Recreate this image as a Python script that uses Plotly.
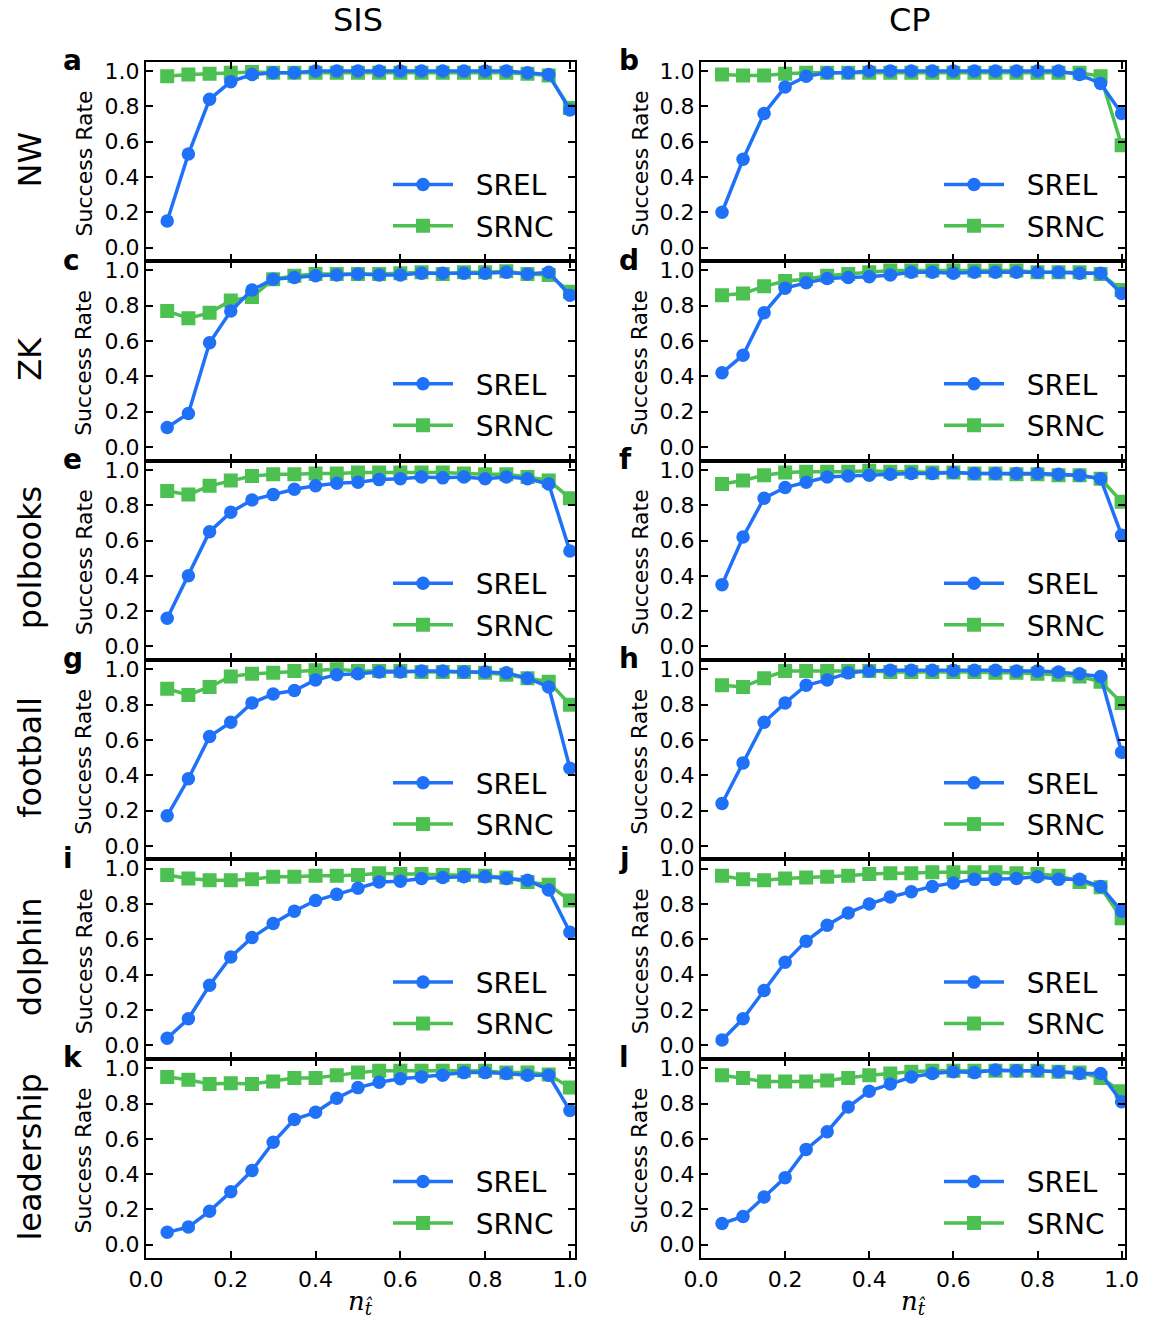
import plotly.graph_objects as go

# ---------------- data ----------------
n_t = [0.05, 0.10, 0.15, 0.20, 0.25, 0.30, 0.35, 0.40, 0.45, 0.50,
       0.55, 0.60, 0.65, 0.70, 0.75, 0.80, 0.85, 0.90, 0.95, 1.00]

networks = ["NW", "ZK", "polbooks", "football", "dolphin", "leadership"]
models = ["SIS", "CP"]
panel_letters = ["a", "b", "c", "d", "e", "f", "g", "h", "i", "j", "k", "l"]
series_names = ["SREL", "SRNC"]
y_ticks = [0.0, 0.2, 0.4, 0.6, 0.8, 1.0]
x_ticks = [0.0, 0.2, 0.4, 0.6, 0.8, 1.0]

sis_nw_srel = [0.15, 0.53, 0.84, 0.94, 0.98, 0.99, 0.99, 1.0, 1.0, 1.0, 1.0, 1.0, 1.0, 1.0, 1.0, 1.0, 1.0, 0.99, 0.98, 0.78]
sis_nw_srnc = [0.97, 0.98, 0.985, 0.99, 0.995, 0.99, 0.99, 0.99, 0.99, 0.99, 0.99, 0.99, 0.99, 0.99, 0.99, 0.99, 0.99, 0.985, 0.975, 0.79]
cp_nw_srel = [0.20, 0.50, 0.76, 0.91, 0.97, 0.99, 0.99, 1.0, 1.0, 1.0, 1.0, 1.0, 1.0, 1.0, 1.0, 1.0, 1.0, 0.98, 0.93, 0.76]
cp_nw_srnc = [0.98, 0.975, 0.975, 0.985, 0.99, 0.99, 0.99, 0.99, 0.99, 0.99, 0.99, 0.99, 0.99, 0.99, 0.99, 0.99, 0.99, 0.99, 0.97, 0.58]

sis_zk_srel = [0.11, 0.19, 0.59, 0.77, 0.89, 0.95, 0.96, 0.97, 0.975, 0.98, 0.975, 0.975, 0.985, 0.985, 0.985, 0.985, 0.99, 0.98, 0.99, 0.86]
sis_zk_srnc = [0.77, 0.73, 0.76, 0.83, 0.85, 0.95, 0.97, 0.98, 0.98, 0.98, 0.98, 0.985, 0.99, 0.98, 0.99, 0.99, 0.995, 0.98, 0.975, 0.88]
cp_zk_srel = [0.42, 0.52, 0.76, 0.90, 0.93, 0.955, 0.96, 0.965, 0.975, 0.99, 0.99, 0.985, 0.99, 0.99, 0.99, 0.99, 0.99, 0.985, 0.985, 0.87]
cp_zk_srnc = [0.86, 0.87, 0.91, 0.94, 0.95, 0.97, 0.98, 0.99, 1.0, 1.0, 1.0, 1.0, 1.0, 1.0, 1.0, 0.99, 0.99, 0.99, 0.98, 0.89]

sis_polbooks_srel = [0.16, 0.40, 0.65, 0.76, 0.83, 0.86, 0.89, 0.91, 0.925, 0.93, 0.945, 0.95, 0.96, 0.955, 0.96, 0.95, 0.96, 0.95, 0.92, 0.54]
sis_polbooks_srnc = [0.88, 0.86, 0.91, 0.94, 0.965, 0.975, 0.975, 0.98, 0.98, 0.985, 0.985, 0.985, 0.985, 0.985, 0.98, 0.975, 0.975, 0.96, 0.94, 0.84]
cp_polbooks_srel = [0.35, 0.62, 0.84, 0.90, 0.93, 0.96, 0.965, 0.97, 0.975, 0.98, 0.98, 0.985, 0.98, 0.98, 0.98, 0.98, 0.975, 0.97, 0.95, 0.63]
cp_polbooks_srnc = [0.92, 0.94, 0.97, 0.985, 0.99, 0.99, 0.99, 0.995, 0.99, 0.99, 0.985, 0.985, 0.98, 0.98, 0.975, 0.975, 0.97, 0.97, 0.95, 0.82]

sis_football_srel = [0.17, 0.38, 0.62, 0.70, 0.81, 0.86, 0.88, 0.94, 0.97, 0.975, 0.985, 0.985, 0.99, 0.99, 0.985, 0.985, 0.98, 0.95, 0.90, 0.44]
sis_football_srnc = [0.89, 0.855, 0.90, 0.96, 0.975, 0.98, 0.99, 0.995, 1.0, 0.99, 0.99, 0.99, 0.985, 0.985, 0.985, 0.98, 0.97, 0.95, 0.93, 0.80]
cp_football_srel = [0.24, 0.47, 0.70, 0.81, 0.91, 0.94, 0.98, 0.99, 0.995, 0.995, 0.995, 0.995, 0.995, 0.995, 0.99, 0.99, 0.985, 0.975, 0.96, 0.53]
cp_football_srnc = [0.91, 0.90, 0.95, 0.99, 0.99, 0.99, 0.99, 0.99, 0.985, 0.985, 0.985, 0.985, 0.985, 0.98, 0.98, 0.975, 0.97, 0.96, 0.93, 0.81]

sis_dolphin_srel = [0.04, 0.15, 0.34, 0.50, 0.61, 0.69, 0.76, 0.82, 0.855, 0.89, 0.925, 0.93, 0.945, 0.95, 0.955, 0.955, 0.945, 0.935, 0.88, 0.64]
sis_dolphin_srnc = [0.965, 0.945, 0.935, 0.935, 0.94, 0.955, 0.955, 0.96, 0.96, 0.965, 0.975, 0.97, 0.97, 0.965, 0.965, 0.96, 0.95, 0.925, 0.91, 0.82]
cp_dolphin_srel = [0.03, 0.15, 0.31, 0.47, 0.59, 0.68, 0.75, 0.80, 0.84, 0.87, 0.90, 0.92, 0.94, 0.94, 0.945, 0.955, 0.94, 0.94, 0.90, 0.76]
cp_dolphin_srnc = [0.96, 0.94, 0.935, 0.945, 0.95, 0.955, 0.96, 0.97, 0.975, 0.975, 0.98, 0.98, 0.98, 0.98, 0.975, 0.97, 0.96, 0.925, 0.895, 0.72]

sis_leadership_srel = [0.07, 0.10, 0.19, 0.30, 0.42, 0.58, 0.71, 0.75, 0.83, 0.89, 0.92, 0.94, 0.95, 0.96, 0.975, 0.975, 0.97, 0.96, 0.96, 0.76]
sis_leadership_srnc = [0.95, 0.935, 0.91, 0.915, 0.91, 0.925, 0.945, 0.945, 0.96, 0.975, 0.985, 0.985, 0.985, 0.985, 0.985, 0.985, 0.975, 0.975, 0.965, 0.89]
cp_leadership_srel = [0.12, 0.16, 0.27, 0.38, 0.54, 0.64, 0.78, 0.87, 0.91, 0.95, 0.97, 0.98, 0.975, 0.99, 0.985, 0.985, 0.98, 0.97, 0.97, 0.81]
cp_leadership_srnc = [0.96, 0.945, 0.925, 0.925, 0.925, 0.93, 0.945, 0.96, 0.97, 0.98, 0.985, 0.985, 0.985, 0.985, 0.985, 0.985, 0.98, 0.975, 0.945, 0.87]

panels = [
    (sis_nw_srel, sis_nw_srnc), (cp_nw_srel, cp_nw_srnc),
    (sis_zk_srel, sis_zk_srnc), (cp_zk_srel, cp_zk_srnc),
    (sis_polbooks_srel, sis_polbooks_srnc), (cp_polbooks_srel, cp_polbooks_srnc),
    (sis_football_srel, sis_football_srnc), (cp_football_srel, cp_football_srnc),
    (sis_dolphin_srel, sis_dolphin_srnc), (cp_dolphin_srel, cp_dolphin_srnc),
    (sis_leadership_srel, sis_leadership_srnc), (cp_leadership_srel, cp_leadership_srnc),
]

# ---------------- style / layout ----------------
W, H = 1156, 1322
BLUE = "#1f72f7"
GREEN = "#4cc050"
FONT = "DejaVu Sans"
NB = "\u00a0\u00a0"  # small gap between legend line and label

col_px = [(146, 575), (701, 1125)]
x_max = [1.012, 1.008]
row_top0 = 61.7
row_h = 199.43

fig = go.Figure()
layout = dict(
    template="none",
    width=W, height=H, margin=dict(l=0, r=0, t=0, b=0, pad=0, autoexpand=False),
    paper_bgcolor="white", plot_bgcolor="white",
    font=dict(family=FONT, color="black"),
    showlegend=True,
)
annotations = []

for k, (srel, srnc) in enumerate(panels):
    r, c = divmod(k, 2)
    ax = "" if k == 0 else str(k + 1)
    leg = "legend" if k == 0 else f"legend{k + 1}"
    x0, x1 = col_px[c]
    top = row_top0 + r * row_h
    bot = top + row_h

    fig.add_trace(go.Scatter(
        x=n_t, y=srnc, name=NB + series_names[1], mode="lines+markers",
        line=dict(color=GREEN, width=3.5),
        marker=dict(symbol="square", size=14, color=GREEN, line=dict(width=0)),
        xaxis="x" + ax, yaxis="y" + ax, legend=leg, legendrank=2,
        legendgroup=f"g{k}b",
    ))
    fig.add_trace(go.Scatter(
        x=n_t, y=srel, name=NB + series_names[0], mode="lines+markers",
        line=dict(color=BLUE, width=3.5),
        marker=dict(symbol="circle", size=13.5, color=BLUE, line=dict(width=0)),
        xaxis="x" + ax, yaxis="y" + ax, legend=leg, legendrank=1,
        legendgroup=f"g{k}a",
    ))

    common = dict(showline=True, linecolor="black", linewidth=2, mirror="ticks",
                  ticks="inside", ticklen=7, tickwidth=1.5, tickcolor="black",
                  showgrid=False, zeroline=False, automargin=False,
                  tickfont=dict(family=FONT, size=22, color="black"))
    layout["xaxis" + ax] = dict(
        common, domain=[x0 / W, x1 / W], range=[0, x_max[c]],
        tickvals=x_ticks, ticktext=[f"{v:.1f}" for v in x_ticks],
        showticklabels=(r == 5), anchor="y" + ax,
    )
    layout["yaxis" + ax] = dict(
        common, domain=[1 - bot / H, 1 - top / H], range=[-0.077, 1.053],
        tickvals=y_ticks, ticktext=[f"{v:.1f}" for v in y_ticks],
        anchor="x" + ax,
    )
    lx = 392 if c == 0 else 943
    layout[leg] = dict(
        x=(lx - 4) / W, y=1 - (top + 98) / H, xanchor="left", yanchor="top",
        xref="paper", yref="paper",
        bgcolor="rgba(0,0,0,0)", font=dict(family=FONT, size=28, color="black"),
        itemwidth=60, traceorder="grouped", tracegroupgap=2,
    )

    # panel letter
    annotations.append(dict(
        text=f"<b>{panel_letters[k]}</b>", x=(61 if c == 0 else 617) / W,
        y=1 - (top - 1) / H, xref="paper", yref="paper",
        xanchor="left", yanchor="middle", showarrow=False,
        font=dict(family=FONT, size=28, color="black"),
    ))
    # y axis title
    annotations.append(dict(
        text="Success Rate", x=(84 if c == 0 else 640) / W,
        y=1 - (top + 0.5 * row_h + 2) / H, xref="paper", yref="paper",
        xanchor="center", yanchor="middle", textangle=-90, showarrow=False,
        font=dict(family=FONT, size=22, color="black"),
    ))

# row labels
for r, name in enumerate(networks):
    top = row_top0 + r * row_h
    annotations.append(dict(
        text=name, x=30 / W, y=1 - (top + 0.5 * row_h - 2) / H,
        xref="paper", yref="paper", xanchor="center", yanchor="middle",
        textangle=-90, showarrow=False,
        font=dict(family=FONT, size=32, color="black"),
    ))
# column titles
for c, name in enumerate(models):
    x0, x1 = col_px[c]
    annotations.append(dict(
        text=name, x=((x0 + x1) / 2 - 3) / W, y=1 - 20 / H,
        xref="paper", yref="paper", xanchor="center", yanchor="middle",
        showarrow=False, font=dict(family=FONT, size=32, color="black"),
    ))
    annotations.append(dict(
        text="<i>n</i><sub><i>t\u0302</i></sub>", x=(x0 + x1) / 2 / W, y=1 - 1302 / H,
        xref="paper", yref="paper", xanchor="center", yanchor="middle",
        showarrow=False, font=dict(family="DejaVu Serif", size=26, color="black"),
    ))

layout["annotations"] = annotations
fig.update_layout(**layout)
fig.write_html("out.html")
